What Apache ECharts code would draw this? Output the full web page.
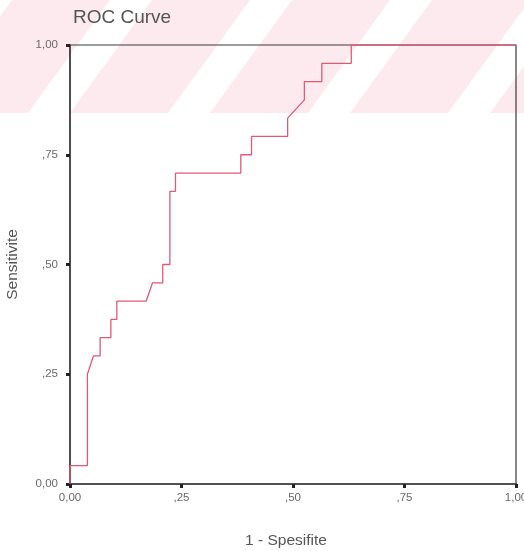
<!DOCTYPE html>
<html>
<head>
<meta charset="utf-8">
<script src="https://cdn.jsdelivr.net/npm/echarts@6/dist/echarts.min.js"></script>
<style>
html,body{margin:0;padding:0;background:#fff;}
#chart{width:524px;height:551px;}
</style>
</head>
<body>
<div id="chart"></div>
<script>
// Data
var fprValues = [0, 0, 0.039, 0.039, 0.0525, 0.0676, 0.0676, 0.0916, 0.0916, 0.105, 0.105, 0.171, 0.185, 0.208, 0.208, 0.224, 0.224, 0.2365, 0.2365, 0.383, 0.383, 0.407, 0.407, 0.488, 0.488, 0.5255, 0.5255, 0.5646, 0.5646, 0.6306, 0.6306, 1];
var tprValues = [0, 0.0417, 0.0417, 0.25, 0.2917, 0.2917, 0.3333, 0.3333, 0.375, 0.375, 0.4167, 0.4167, 0.4583, 0.4583, 0.5, 0.5, 0.6667, 0.6667, 0.7083, 0.7083, 0.75, 0.75, 0.7917, 0.7917, 0.8333, 0.875, 0.9167, 0.9167, 0.9583, 0.9583, 1, 1];
var tickValues = [0, 0.25, 0.5, 0.75, 1];
var tickLabels = ['0,00', ',25', ',50', ',75', '1,00'];
var titleText = 'ROC Curve';
var xName = '1 - Spesifite';
var yName = 'Sensitivite';

var curve = fprValues.map(function (x, i) { return [x, tprValues[i]]; });
function fmt(v) {
  for (var i = 0; i < tickValues.length; i++) {
    if (Math.abs(tickValues[i] - v) < 1e-9) return tickLabels[i];
  }
  return '';
}

// decorative watermark stripes (background only)
var stripes = [];
var pinkStarts = [-128, 12, 152, 292, 432, 572];
pinkStarts.forEach(function (s) {
  var w = 98, h = 113, shift = 82;
  stripes.push({
    type: 'polygon', z: -10, silent: true,
    shape: { points: [[s, 0], [s + w, 0], [s + w - shift, h], [s - shift, h]] },
    style: { fill: '#fdeaee' }
  });
});

var chart = echarts.init(document.getElementById('chart'), null, { renderer: 'canvas' });
var fontFam = 'Liberation Sans, Arial, sans-serif';
var axisCommon = {
  type: 'value', min: 0, max: 1, interval: 0.25,
  splitLine: { show: false },
  axisLine: { show: true, onZero: false, lineStyle: { color: '#3a3a3a', width: 1.5 } },
  axisTick: { show: true, length: 4, lineStyle: { color: '#222', width: 3 } },
  axisLabel: { formatter: fmt, color: '#6a6a6a', fontSize: 11.5, fontFamily: fontFam },
  nameLocation: 'middle',
  nameTextStyle: { color: '#555', fontSize: 15.5, fontFamily: fontFam }
};
chart.setOption({
  animation: false,
  backgroundColor: '#ffffff',
  graphic: stripes,
  title: {
    text: titleText, left: 68, top: 3,
    textStyle: { color: '#555', fontSize: 19, fontWeight: 'normal', fontFamily: fontFam }
  },
  grid: {
    left: 70, right: 8, top: 45, bottom: 67,
    outerBoundsMode: 'none', containLabel: false,
    show: true, borderColor: '#3a3a3a', borderWidth: 1.2, backgroundColor: 'transparent'
  },
  xAxis: Object.assign({}, axisCommon, {
    name: xName, nameGap: 49,
    nameTextStyle: Object.assign({}, axisCommon.nameTextStyle, { padding: [0, 14, 0, 0] }),
    axisLabel: Object.assign({}, axisCommon.axisLabel, { margin: 8 })
  }),
  yAxis: Object.assign({}, axisCommon, {
    name: yName, nameGap: 49,
    axisLabel: Object.assign({}, axisCommon.axisLabel, { margin: 12 })
  }),
  series: [{
    type: 'line', data: curve, showSymbol: false, symbol: 'none', z: 5,
    lineStyle: { color: '#de5a78', width: 1.3 }
  }]
});
</script>
</body>
</html>
